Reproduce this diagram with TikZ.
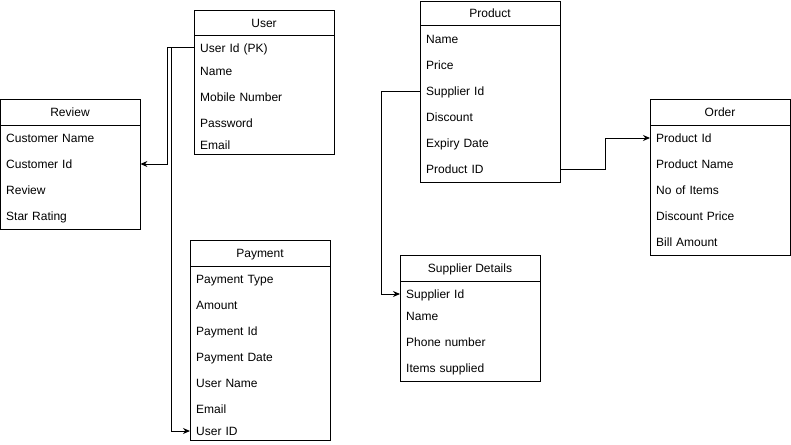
\documentclass[tikz,border=0pt]{standalone}
\usepackage{fontspec}
\setmainfont{Liberation Sans}
\usetikzlibrary{arrows.meta}
\begin{document}
\begin{tikzpicture}[x=1pt,y=-1pt,
  ent/.style={draw, line width=1pt, anchor=north west, inner sep=0pt, minimum width=140pt},
  ttl/.style={font=\fontsize{12}{14}\selectfont, inner sep=0pt, text height=11.2pt, text depth=1.6pt},
  row/.style={anchor=west, minimum width=140pt, text width=128pt, align=left, inner xsep=6pt, inner ysep=0pt, text height=11.2pt, text depth=1.6pt, font=\fontsize{12}{14}\selectfont},
  sep/.style={line width=1pt},
  conn/.style={line width=1pt, -{Stealth[length=7pt,width=6pt]}}]
\useasboundingbox (0,0) rectangle (791,444);
% User
\node[ent, minimum height=144pt] (user) at (194,10) {};
\draw[sep] (194,36) -- (334,36);
\node[ttl] (usert) at (264,23) {User};
\node[row] (uid) at (194,48) {User Id (PK)};
\node[row] (uname) at (194,71) {Name};
\node[row] (umob) at (194,97) {Mobile Number};
\node[row] (upw) at (194,123) {Password};
\node[row] (uem) at (194,145) {Email};
% Review
\node[ent, minimum height=130pt] (review) at (0,99) {};
\draw[sep] (0,125) -- (140,125);
\node[ttl] (reviewt) at (70,112) {Review};
\node[row] (cname) at (0,138) {Customer Name};
\node[row] (cid) at (0,164) {Customer Id};
\node[row] (crev) at (0,190) {Review};
\node[row] (cstar) at (0,216) {Star Rating};
% Product
\node[ent, minimum height=181pt] (product) at (420,1) {};
\draw[sep] (420,26) -- (560,26);
\node[ttl] (productt) at (490,13) {Product};
\node[row] (pname) at (420,39) {Name};
\node[row] (pprice) at (420,65) {Price};
\node[row] (psid) at (420,91) {Supplier Id};
\node[row] (pdisc) at (420,117) {Discount};
\node[row] (pexp) at (420,143) {Expiry Date};
\node[row] (ppid) at (420,169) {Product ID};
% Order
\node[ent, minimum height=156pt] (order) at (650,99) {};
\draw[sep] (650,125) -- (790,125);
\node[ttl] (ordert) at (720,112) {Order};
\node[row] (opid) at (650,138) {Product Id};
\node[row] (opname) at (650,164) {Product Name};
\node[row] (onum) at (650,190) {No of Items};
\node[row] (odp) at (650,216) {Discount Price};
\node[row] (obill) at (650,242) {Bill Amount};
% Payment
\node[ent, minimum height=200pt] (payment) at (190,240) {};
\draw[sep] (190,266) -- (330,266);
\node[ttl] (paymentt) at (260,253) {Payment};
\node[row] (ptype) at (190,279) {Payment Type};
\node[row] (pamt) at (190,305) {Amount};
\node[row] (ppayid) at (190,331) {Payment Id};
\node[row] (pdate) at (190,357) {Payment Date};
\node[row] (puname) at (190,383) {User Name};
\node[row] (pemail) at (190,409) {Email};
\node[row] (puid) at (190,431) {User ID};
% Supplier Details
\node[ent, minimum height=126pt] (supplier) at (400,255) {};
\draw[sep] (400,281) -- (540,281);
\node[ttl] (suppliert) at (470,268) {Supplier Details};
\node[row] (ssid) at (400,294) {Supplier Id};
\node[row] (sname) at (400,316) {Name};
\node[row] (sphone) at (400,342) {Phone number};
\node[row] (sitems) at (400,368) {Items supplied};
% Connectors
\draw[conn] (uid.west) -- ++(-27,0) |- (cid.east);
\draw[conn] (uid.west) -- ++(-23,0) |- (puid.west);
\draw[conn] (psid.west) -- ++(-39,0) |- (ssid.west);
\draw[conn] (ppid.east) -- ++(45,0) |- (opid.west);
\end{tikzpicture}
\end{document}
